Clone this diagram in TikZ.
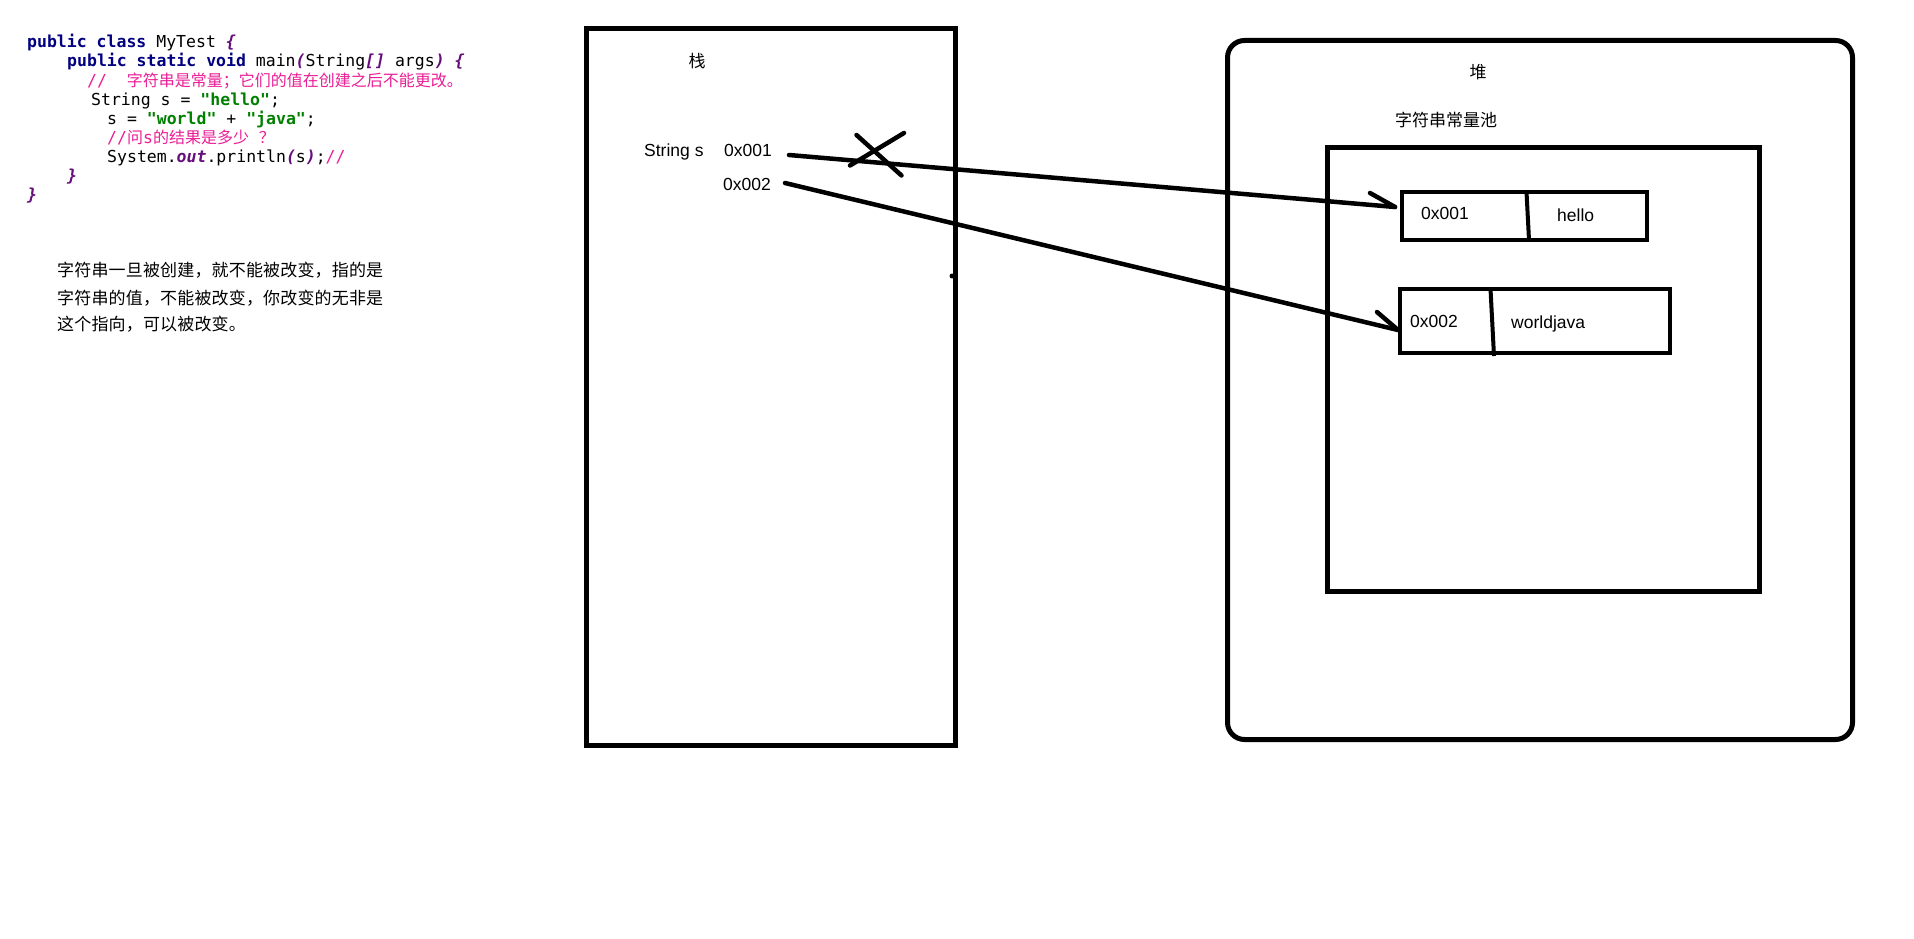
\documentclass[tikz,border=0pt]{standalone}
\usepackage{fontspec}
\setmainfont{Liberation Sans}
\newfontfamily\cjk{Noto Sans CJK SC}
\newfontfamily\cjkls[LetterSpace=1]{Noto Sans CJK SC}
\newfontfamily\codefont{DejaVu Sans Mono}
\definecolor{kwc}{RGB}{0,0,128}
\definecolor{strc}{RGB}{0,128,0}
\definecolor{cmc}{RGB}{235,30,150}
\definecolor{puc}{RGB}{102,14,122}
\newcommand{\kw}[1]{\textcolor{kwc}{\bfseries #1}}
\newcommand{\str}[1]{\textcolor{strc}{\bfseries #1}}
\newcommand{\cm}[1]{\textcolor{cmc}{#1}}
\newcommand{\pu}[1]{\textcolor{puc}{\bfseries\itshape #1}}
\newcommand{\cz}[1]{{\cjk\fontsize{16}{18}\selectfont #1}}
\tikzset{
  frame/.style={draw, line width=5pt, inner sep=0pt, outer sep=0pt},
  cell/.style={draw, line width=4pt, inner sep=0pt, outer sep=0pt},
  conn/.style={line width=4.5pt, line cap=round},
  codeline/.style={anchor=base west, inner sep=0pt, font=\codefont\fontsize{16.5}{19}\selectfont},
  lbl/.style={anchor=base west, inner sep=0pt, font=\fontsize{17.5}{20}\selectfont},
  zh/.style={anchor=base west, inner sep=0pt, font=\cjk\fontsize{17}{20}\selectfont},
  para/.style={anchor=base west, inner sep=0pt, font=\cjkls\fontsize{17}{20}\selectfont},
}
\begin{document}
\begin{tikzpicture}[x=1pt, y=-1pt]
\useasboundingbox[fill=white] (0,0) rectangle (1914,939);
% code
\node[codeline] (c1) at (27,48) {\kw{public class} MyTest \pu{\{}};
\node[codeline] (c2) at (67,67) {\kw{public static void} main\pu{(}String\pu{[]} args\pu{)} \pu{\{}};
\node[codeline] (c3) at (87,87) {\cm{//\ \ \cz{字符串是常量；它们的值在创建之后不能更改。}}};
\node[codeline] (c4) at (91,106) {String s = \str{"hello"};};
\node[codeline] (c5) at (107,124.5) {s = \str{"world"} + \str{"java"};};
\node[codeline] (c6) at (107,143) {\cm{//\cz{问}s\cz{的结果是多少}\ \cz{？}}};
\node[codeline] (c7) at (107,162.5) {System.\pu{out}.println\pu{(}s\pu{)};\cm{//}};
\node[codeline] (c8) at (67,182) {\pu{\}}};
\node[codeline] (c9) at (27,200.5) {\pu{\}}};
% paragraph
\node[para] (t1) at (57,276.5) {字符串一旦被创建，就不能被改变，指的是};
\node[para] (t2) at (57,304) {字符串的值，不能被改变，你改变的无非是};
\node[para] (t3) at (57,330.5) {这个指向，可以被改变。};
% stack
\node[frame, minimum width=369pt, minimum height=717pt] (stack) at (771,387) {};
\node[zh, anchor=base] (stl) at (697,67.5) {栈};
\node[lbl] (strs) at (644,157) {String s};
\node[lbl] (p1) at (724,157) {0x001};
\node[lbl] (p2) at (723,190.5) {0x002};
\fill (952,276) circle (2.5pt);
% heap
\node[frame, rounded corners=17pt, minimum width=625pt, minimum height=699pt] (heap) at (1540,390) {};
\node[zh, anchor=base] (hpl) at (1478,78.5) {堆};
\node[zh] (pooll) at (1395,126.5) {字符串常量池};
\node[frame, minimum width=432pt, minimum height=444pt] (pool) at (1543.5,369.5) {};
% cells
\node[cell, minimum width=245pt, minimum height=48pt] (box1) at (1524.5,216) {};
\draw[line width=4pt] (1526.5,192) -- (1529,240);
\node[lbl] (b1a) at (1421,219) {0x001};
\node[lbl] (b1b) at (1557,221) {hello};
\node[cell, minimum width=270pt, minimum height=64pt] (box2) at (1535,321) {};
\draw[line width=4pt] (1490.5,289) -- (1494,356);
\node[lbl] (b2a) at (1410,327) {0x002};
\node[lbl] (b2b) at (1511,328) {worldjava};
% connectors
\coordinate (a1s) at (789,155);
\coordinate (a1e) at (1395,207);
\coordinate (a1b) at (1370,193);
\coordinate (a2s) at (785,183);
\coordinate (a2e) at (1398,330);
\coordinate (a2b) at (1377,312);
\draw[conn] (a1s) -- (a1e);
\draw[conn] (a1b) -- (a1e);
\draw[conn] (a2s) -- (a2e);
\draw[conn] (a2b) -- (a2e);
% cross
\coordinate (x1) at (856.5,135);
\coordinate (x2) at (901.5,175.5);
\coordinate (x3) at (850,165.5);
\coordinate (x4) at (904,133);
\draw[conn] (x1) -- (x2);
\draw[conn] (x3) -- (x4);
\end{tikzpicture}
\end{document}
